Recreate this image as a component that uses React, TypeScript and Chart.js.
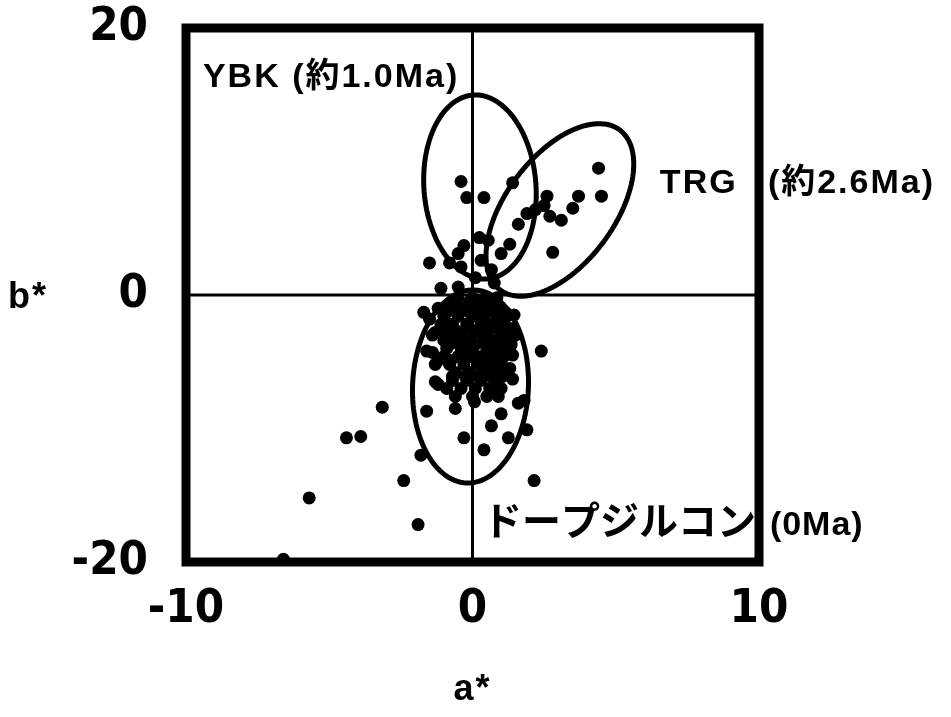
import React, { useEffect, useRef } from "react";
import { Chart, registerables } from "chart.js";

Chart.register(...registerables);

// ---- axes ----
const xTickValues = [-10, 0, 10];
const yTickValues = [-20, 0, 20];
const xTitle = "a*";
const yTitle = "b*";

// ---- TRG (約2.6Ma) points ----
const trgA = [4.4, 4.5, 3.7, 3.5, 3.1, 2.8, 2.6, 2.5, 2.7, 1.9, 1.6, 1.4, 1.3, 2.2];
const trgB = [9.5, 7.4, 7.4, 6.5, 5.6, 3.2, 7.4, 6.7, 5.9, 6.1, 5.3, 8.4, 3.8, 6.4];

// ---- YBK (約1.0Ma) points ----
const ybkA = [-0.4, -0.2, 0.4, 0.24, 0.55, -0.3, -0.5, 0.3, 1.0, -0.8, -0.4, 0.66, -1.5, -1.1, -0.5, 0.76, 0.1];
const ybkB = [8.5, 7.3, 7.3, 4.3, 4.1, 3.7, 3.1, 2.6, 3.1, 2.4, 2.1, 1.9, 2.4, 0.5, 0.6, 0.9, 1.3];

// ---- ドープジルコン (0Ma) points ----
const dopedA = [
  -0.6, -0.1, 0.3, 0.8,
  -1.2, -0.8, -0.3, 0.2, 0.6, 1.0,
  -1.0, -0.5, 0.0, 0.4, 0.9, 1.2,
  -1.1, -0.7, -0.2, 0.3, 0.7, 1.1,
  -1.3, -0.9, -0.4, 0.1, 0.5, 1.0, 1.3,
  -1.0, -0.6, -0.1, 0.4, 0.8, 1.2,
  -0.9, -0.4, 0.0, 0.5, 0.9, 1.3,
  -1.0, -0.5, -0.1, 0.3, 0.7, 1.1,
  -0.8, -0.3, 0.2, 0.6, 1.0,
  -0.6, -0.1, 0.4, 0.9, 1.2,
  -0.7, -0.2, 0.3, 0.8,
  -0.9, -0.4, 0.1, 0.6, 1.0,
  -0.6, 0.0, 0.5, 0.9,
  -0.9, -0.5, -0.1, 0.35, 0.75, 1.15,
  -1.1, -0.65, -0.2, 0.25, 0.65, 1.05, 1.4,
  -0.8, -0.35, 0.1, 0.55, 0.95, 1.35,
  -1.2, -0.75, -0.3, 0.15, 0.6, 1.0,
  -0.7, -0.25, 0.2, 0.65, 1.05,
  -0.5, 0.0, 0.45, 0.85,
  -1.5, -1.4, -1.6, -1.3, 1.45, 1.5, 1.4, 1.3,
  0.07, 1.0, 1.6, -0.6, 0.66, 1.25, -0.3, 0.4,
  -1.7, 2.4, -3.15, -1.6, -1.8, -2.4, 2.15, 1.9, 1.8, -1.3, 1.4, -1.4,
  -4.4, -3.9, -5.7, -1.9, -1.2, -6.6
];
const dopedB = [
  -0.5, -0.5, -0.5, -0.5,
  -1.0, -1.0, -1.0, -1.0, -1.0, -1.0,
  -1.6, -1.6, -1.6, -1.6, -1.6, -1.6,
  -2.2, -2.2, -2.2, -2.2, -2.2, -2.2,
  -2.8, -2.8, -2.8, -2.8, -2.8, -2.8, -2.8,
  -3.4, -3.4, -3.4, -3.4, -3.4, -3.4,
  -4.0, -4.0, -4.0, -4.0, -4.0, -4.0,
  -4.6, -4.6, -4.6, -4.6, -4.6, -4.6,
  -5.2, -5.2, -5.2, -5.2, -5.2,
  -5.8, -5.8, -5.8, -5.8, -5.8,
  -6.4, -6.4, -6.4, -6.4,
  -7.0, -7.0, -7.0, -7.0, -7.0,
  -7.6, -7.6, -7.6, -7.6,
  -1.3, -1.3, -1.3, -1.3, -1.3, -1.3,
  -2.5, -2.5, -2.5, -2.5, -2.5, -2.5, -2.5,
  -3.7, -3.7, -3.7, -3.7, -3.7, -3.7,
  -4.9, -4.9, -4.9, -4.9, -4.9, -4.9,
  -6.1, -6.1, -6.1, -6.1, -6.1,
  -0.2, -0.2, -0.2, -0.2,
  -1.8, -3.0, -4.2, -5.2, -1.5, -3.0, -4.5, -5.5,
  -8.0, -8.9, -8.1, -8.5, -9.8, -10.7, -10.7, -11.6,
  -1.3, -4.2, -8.4, -8.7, -12.0, -13.9, -13.9, -10.1, -7.9, -6.5, -6.3, -4.3,
  -10.7, -10.6, -15.2, -17.2, -6.7, -19.8
];

// ---- group ellipses (centre and semi-axis vectors, in a*/b* units) ----
const ellipseCenterA = [0.26, 3.05, -0.07];
const ellipseCenterB = [8.09, 6.37, -6.85];
const ellipseMajorA = [-0.24, 2.09, 0.14];
const ellipseMajorB = [6.89, 5.99, 7.23];
const ellipseMinorA = [1.95, 1.51, 2.02];
const ellipseMinorB = [0.31, -2.43, -0.18];

// ---- group labels ----
const labelTexts = ["YBK (約1.0Ma)", "TRG", "(約2.6Ma)", "ドープジルコン", "(0Ma)"];
const labelA = [-9.41, 6.54, 10.31, 0.37, 10.38];
const labelB = [15.6, 7.64, 7.64, -17.98, -17.98];
const labelSizes = [34, 34, 34, 39, 34];
const labelSpacing = [2, 2, 2, 0, 1];

const SANS = '"Liberation Sans", Arial, "Noto Sans CJK JP", sans-serif';
const TICK_FONT = '"Liberation Sans Narrow", "DejaVu Sans Condensed", "Liberation Sans", sans-serif';

const toPoints = (a: number[], b: number[]) => a.map((v, i) => ({ x: v, y: b[i] }));

const decorPlugin = {
  id: "decor",
  beforeDatasetsDraw(chart: any) {
    const { ctx, chartArea, scales } = chart;
    const x0 = scales.x.getPixelForValue(0);
    const y0 = scales.y.getPixelForValue(0);
    ctx.save();
    ctx.strokeStyle = "#000";
    ctx.lineWidth = 3;
    ctx.beginPath();
    ctx.moveTo(x0, chartArea.top);
    ctx.lineTo(x0, chartArea.bottom);
    ctx.moveTo(chartArea.left, y0);
    ctx.lineTo(chartArea.right, y0);
    ctx.stroke();
    ctx.restore();
  },
  afterDatasetsDraw(chart: any) {
    const { ctx, chartArea, scales } = chart;
    const sx = scales.x;
    const sy = scales.y;
    ctx.save();
    // ellipses
    ctx.strokeStyle = "#000";
    ctx.lineWidth = 5;
    for (let e = 0; e < ellipseCenterA.length; e++) {
      ctx.beginPath();
      const steps = 120;
      for (let k = 0; k <= steps; k++) {
        const t = (k / steps) * Math.PI * 2;
        const a = ellipseCenterA[e] + ellipseMajorA[e] * Math.cos(t) + ellipseMinorA[e] * Math.sin(t);
        const b = ellipseCenterB[e] + ellipseMajorB[e] * Math.cos(t) + ellipseMinorB[e] * Math.sin(t);
        const px = sx.getPixelForValue(a);
        const py = sy.getPixelForValue(b);
        if (k === 0) ctx.moveTo(px, py);
        else ctx.lineTo(px, py);
      }
      ctx.closePath();
      ctx.stroke();
    }
    // frame
    ctx.lineWidth = 9;
    ctx.strokeRect(chartArea.left, chartArea.top, chartArea.right - chartArea.left, chartArea.bottom - chartArea.top);
    // labels
    ctx.fillStyle = "#000";
    ctx.textAlign = "left";
    ctx.textBaseline = "alphabetic";
    for (let i = 0; i < labelTexts.length; i++) {
      ctx.font = `bold ${labelSizes[i]}px ${SANS}`;
      (ctx as any).letterSpacing = `${labelSpacing[i]}px`;
      ctx.fillText(labelTexts[i], sx.getPixelForValue(labelA[i]), sy.getPixelForValue(labelB[i]));
    }
    // axis titles
    ctx.font = `bold 36px ${SANS}`;
    (ctx as any).letterSpacing = "2px";
    ctx.textAlign = "left";
    ctx.fillText(yTitle, 8, sy.getPixelForValue(0) + 13);
    ctx.textAlign = "center";
    ctx.fillText(xTitle, sx.getPixelForValue(0), 700);
    ctx.restore();
  },
};

export default function App() {
  const ref = useRef<HTMLCanvasElement>(null);
  useEffect(() => {
    const pointStyle = {
      pointRadius: 6.5,
      pointHoverRadius: 6.5,
      pointBackgroundColor: "#000",
      pointBorderWidth: 0,
      borderColor: "#000",
      backgroundColor: "#000",
      showLine: false,
    };
    const chart = new Chart(ref.current as HTMLCanvasElement, {
      type: "scatter",
      data: {
        datasets: [
          { label: "YBK", data: toPoints(ybkA, ybkB), ...pointStyle },
          { label: "TRG", data: toPoints(trgA, trgB), ...pointStyle },
          { label: "ドープジルコン", data: toPoints(dopedA, dopedB), ...pointStyle },
        ],
      },
      options: {
        animation: false,
        responsive: false,
        devicePixelRatio: 1,
        layout: { padding: { top: 28, right: 192, left: 0, bottom: 0 } },
        plugins: { legend: { display: false }, tooltip: { enabled: false } },
        scales: {
          x: {
            type: "linear",
            min: -10,
            max: 10,
            afterBuildTicks: (s: any) => {
              s.ticks = xTickValues.map((v) => ({ value: v }));
            },
            afterFit: (s: any) => {
              s.height = 155;
              s.paddingLeft = 0;
              s.paddingRight = 0;
            },
            grid: { display: false, drawTicks: false },
            border: { display: false },
            ticks: { color: "#000", padding: 20, font: { family: TICK_FONT, size: 47, weight: "bold" }, maxRotation: 0 },
          },
          y: {
            type: "linear",
            min: -20,
            max: 20,
            afterBuildTicks: (s: any) => {
              s.ticks = yTickValues.map((v) => ({ value: v }));
            },
            afterFit: (s: any) => {
              s.width = 186;
              s.paddingTop = 0;
              s.paddingBottom = 0;
            },
            grid: { display: false, drawTicks: false },
            border: { display: false },
            ticks: { color: "#000", padding: 38, font: { family: TICK_FONT, size: 47, weight: "bold" } },
          },
        },
      },
      plugins: [decorPlugin],
    });
    return () => chart.destroy();
  }, []);
  return (
    <div style={{ position: "absolute", left: 0, top: 0, width: 951, height: 717, background: "#fff" }}>
      <canvas ref={ref} width={951} height={717} style={{ width: 951, height: 717, display: "block" }} />
    </div>
  );
}
